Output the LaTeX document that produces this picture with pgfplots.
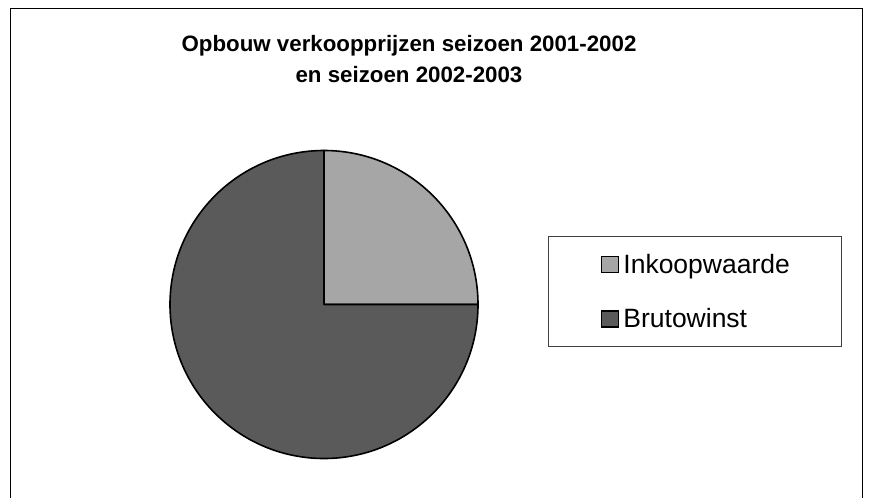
\documentclass[border=0pt]{standalone}
\usepackage{pgfplots}
\usepackage{pgfplotstable}
\pgfplotsset{compat=1.18}
\usepackage{fontspec}
\setmainfont{Liberation Sans}
\definecolor{lightg}{HTML}{A6A6A6}
\definecolor{darkg}{HTML}{5A5A5A}
\pgfplotstableread{
label value
Inkoopwaarde 25
Brutowinst 75
}\piedata
\begin{document}
\begin{tikzpicture}
\pgfplotstablegetelem{0}{value}\of\piedata \let\va\pgfplotsretval
\pgfplotstablegetelem{1}{value}\of\piedata \let\vb\pgfplotsretval
\pgfmathsetmacro\total{\va+\vb}
\pgfmathsetmacro\fa{\va/\total}
\pgfmathsetmacro\fb{\vb/\total}
\pgfmathsetmacro\angA{90-360*\fa}
\pgfmathsetmacro\angB{\angA-360*\fb}
\begin{axis}[
  hide axis, scale only axis,
  width=870pt, height=498pt,
  xmin=0, xmax=870, ymin=0, ymax=498,
  y dir=reverse, clip=false,
  legend cell align=left,
  legend image code/.code={\path[draw=none, fill=none] (0pt,-8pt) rectangle (23pt,8pt);\draw[#1, draw=black, line width=1.3pt] (3pt,-8pt) rectangle (20pt,8pt);},
  legend style={at={(axis cs:548,236)}, anchor=north west, draw=black!75, line width=0.8pt,
    font=\fontsize{26.5}{30}\selectfont, inner xsep=50pt, inner ysep=15.5pt,
    row sep=30pt, nodes={inner xsep=2pt}},
]
\path (axis cs:0,0) rectangle (axis cs:870,498);
\draw[black, line width=1pt] (axis cs:10,498) -- (axis cs:10,8) -- (axis cs:862,8) -- (axis cs:862,498);
\node[font=\bfseries\fontsize{22.3}{27}\selectfont, anchor=base] at (axis cs:409,51) {Opbouw verkoopprijzen seizoen 2001-2002};
\node[font=\bfseries\fontsize{22.3}{27}\selectfont, anchor=base] at (axis cs:409,82) {en seizoen 2002-2003};
\filldraw[fill=lightg, draw=black, line width=1.6pt, line join=round] (axis cs:324,304.5) -- ++(90:154pt) arc[start angle=90, end angle=\angA, radius=154pt] -- cycle;
\filldraw[fill=darkg, draw=black, line width=1.6pt, line join=round] (axis cs:324,304.5) -- ++(\angA:154pt) arc[start angle=\angA, end angle=\angB, radius=154pt] -- cycle;
\addlegendimage{fill=lightg}
\addlegendentry{Inkoopwaarde}
\addlegendimage{fill=darkg}
\addlegendentry{Brutowinst}
\end{axis}
\end{tikzpicture}
\end{document}
